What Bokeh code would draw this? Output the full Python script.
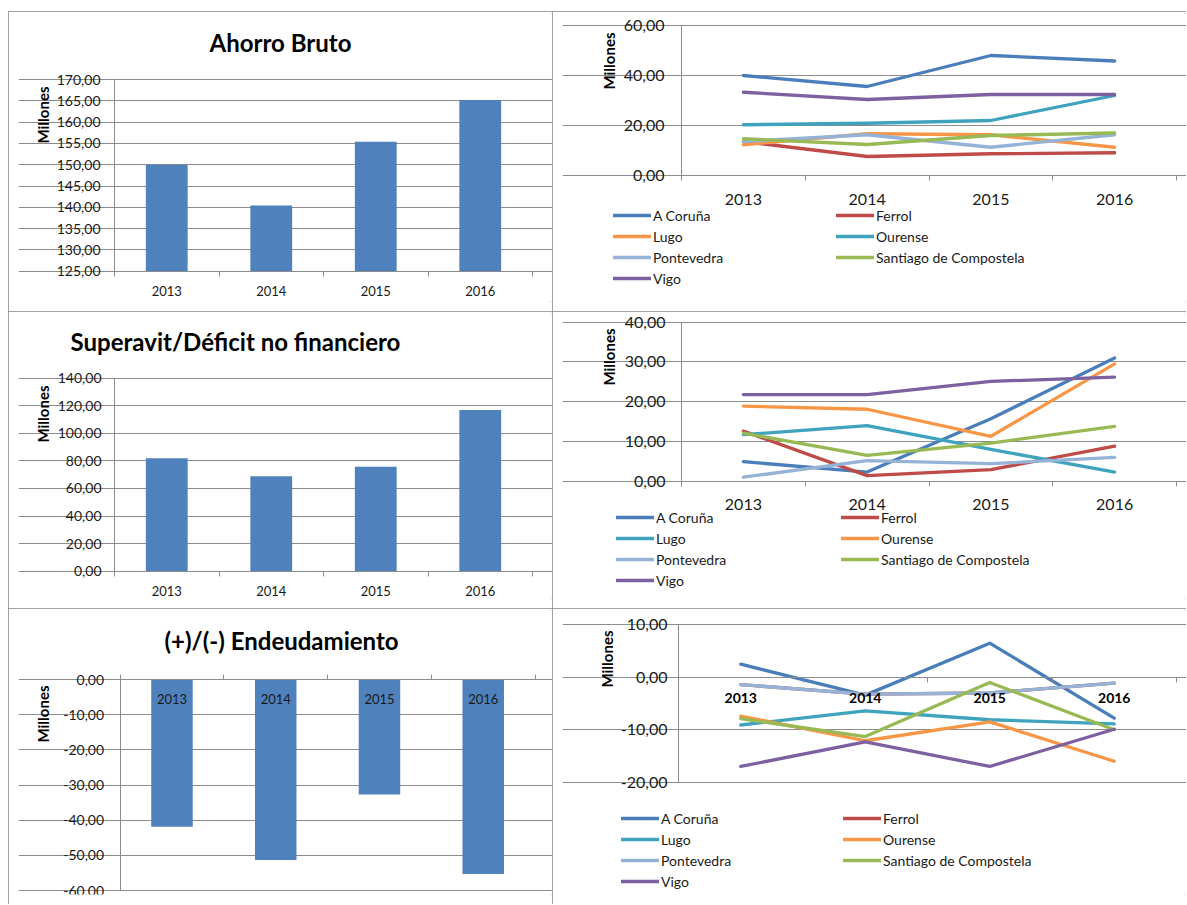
import math
from bokeh.plotting import figure
from bokeh.models import Range1d, FixedTicker, Legend, LegendItem, Spacer
from bokeh.layouts import column, row
from bokeh.embed import file_html
from bokeh.resources import INLINE
from bokeh.core.properties import value

# ---------------- data ----------------
years = ["2013", "2014", "2015", "2016"]
cities = ["A Coruña", "Ferrol", "Lugo", "Ourense", "Pontevedra",
          "Santiago de Compostela", "Vigo"]

ahorro_bruto = [150.0, 140.4, 155.4, 165.2]
superavit_deficit = [82.0, 68.8, 75.8, 116.9]
endeudamiento = [-41.9, -51.3, -32.7, -55.3]

# Ahorro bruto by city
ab_a_coruna = [40.0, 35.6, 48.0, 45.8]
ab_ferrol = [13.6, 7.6, 8.7, 9.1]
ab_lugo = [12.3, 16.7, 16.3, 11.3]
ab_ourense = [20.3, 20.9, 22.0, 32.0]
ab_pontevedra = [13.6, 16.3, 11.3, 16.3]
ab_santiago = [14.7, 12.4, 16.0, 17.0]
ab_vigo = [33.3, 30.4, 32.4, 32.4]

# Superavit/Deficit by city
sd_a_coruna = [4.9, 2.3, 15.7, 31.0]
sd_ferrol = [12.6, 1.4, 2.9, 8.8]
sd_lugo = [11.7, 14.0, 8.0, 2.3]
sd_ourense = [18.9, 18.1, 11.3, 29.5]
sd_pontevedra = [1.0, 5.2, 4.4, 6.0]
sd_santiago = [12.1, 6.5, 9.6, 13.8]
sd_vigo = [21.8, 21.8, 25.1, 26.2]

# Endeudamiento by city
en_a_coruna = [2.5, -3.4, 6.5, -7.8]
en_ferrol = [-1.4, -3.2, -3.0, -1.1]
en_lugo = [-9.1, -6.4, -8.1, -8.9]
en_ourense = [-7.4, -12.1, -8.5, -16.0]
en_pontevedra = [-1.4, -3.2, -3.0, -1.1]
en_santiago = [-7.9, -11.3, -1.0, -10.0]
en_vigo = [-17.0, -12.3, -17.0, -9.9]

# ---------------- styles ----------------
FONT = "Lato"
GRID = "#8c8c8c"
TXT = "#1a1a1a"
BAR = "#4F81BD"
C_BLUE, C_RED, C_ORANGE, C_TEAL = "#4A7EBB", "#BE4B48", "#F79646", "#3FA3BE"
C_LBLUE, C_GREEN, C_PURPLE = "#95B3D7", "#98B954", "#7D60A0"
colors_top = [C_BLUE, C_RED, C_ORANGE, C_TEAL, C_LBLUE, C_GREEN, C_PURPLE]
colors_rest = [C_BLUE, C_RED, C_TEAL, C_ORANGE, C_LBLUE, C_GREEN, C_PURPLE]

N = len(years)
xc = [i + 0.5 for i in range(N)]
BL, BR, BT, BB = 10, 0, 2, 10


def fmt(t):
    return f"{t:.2f}".replace(".", ",")


def panel(canvas, x0p, x4p, yhi, yhi_p, ylo, ylo_p, step, base):
    """Figure whose frame covers the canvas; geometry given in page pixels."""
    cx, cy, cw, ch = canvas
    fl, fr, ft, fb = cx + BL, cx + cw - BR, cy + BT, cy + ch - BB
    xper = (x4p - x0p) / N
    yper = (ylo_p - yhi_p) / (yhi - ylo)
    xr = Range1d(-(x0p - fl) / xper, N + (fr - x4p) / xper)
    yr = Range1d(ylo - (fb - ylo_p) / yper, yhi + (yhi_p - ft) / yper)

    def dx(px):
        return (px - x0p) / xper

    def dy(py):
        return yhi - (py - yhi_p) / yper

    p = figure(width=cw, height=ch, x_range=xr, y_range=yr,
               output_backend="svg", toolbar_location=None,
               min_border_left=BL, min_border_right=BR,
               min_border_top=BT, min_border_bottom=BB)
    p.outline_line_color = None
    p.background_fill_color = "white"
    p.border_fill_color = "white"
    p.xgrid.visible = False
    ticks = list(range(yhi, ylo - 1, -step))[::-1]
    ya = p.yaxis[0]
    ya.ticker = FixedTicker(ticks=ticks)
    ya.major_label_overrides = {t: "" for t in ticks}
    ya.major_label_text_font_size = "1px"
    ya.major_label_standoff = 0
    ya.fixed_location = 0
    ya.bounds = (ylo, yhi)
    ya.axis_line_color = GRID
    ya.major_tick_line_color = GRID
    ya.major_tick_in = 0
    ya.major_tick_out = 5
    ya.minor_tick_line_color = None
    p.ygrid.grid_line_color = GRID
    p.ygrid.bounds = (0, N)
    xa = p.xaxis[0]
    xa.ticker = FixedTicker(ticks=[], minor_ticks=list(range(N + 1)))
    xa.fixed_location = base
    xa.bounds = (0, N)
    xa.axis_line_color = GRID
    xa.major_tick_line_color = None
    xa.major_label_text_font_size = "1px"
    xa.major_label_standoff = 0
    xa.minor_tick_line_color = GRID
    xa.minor_tick_in = 0
    xa.minor_tick_out = 5
    p.styles = {"outline": "2px solid #858585", "outline-offset": "-2px"}
    p._geo = (fl, fr, ft, fb)
    return p, dx, dy, ticks


def txt(p, xs, ys, texts, size, bold=False, align="center", angle=0.0,
        color=TXT):
    p.text(x=xs, y=ys, text=texts, text_font=value(FONT), text_font_size=size,
           text_font_style="bold" if bold else "normal", text_align=align,
           text_baseline="middle", text_color=color, angle=angle)


def decorate(p, dx, dy, ticks, x0p, ygap, ysize, xlab_p, xsize, mill_x, mill_top,
             xbold=False):
    txt(p, [dx(x0p - ygap)] * len(ticks), ticks, [fmt(t) for t in ticks], ysize,
        align="right")
    txt(p, xc, [dy(xlab_p)] * N, years, xsize, bold=xbold,
        color="black" if xbold else TXT)
    txt(p, [dx(mill_x)], [dy(mill_top)], ["Millones"], "15px", bold=True,
        align="right", angle=math.pi / 2, color="black")


def add_lines(p, series, cols, leg_left, leg_top, pitch):
    fl, fr, ft, fb = p._geo
    items = []
    for name, vals, col in zip(cities, series, cols):
        r = p.line(xc, vals, line_color=col, line_width=3.3, line_join="round",
                   line_cap="round")
        items.append(LegendItem(label=name, renderers=[r]))
    nrows = math.ceil(len(cities) / 2)
    lh, sp, gw, ls = 20, 1, 38, 2
    height = nrows * lh + (nrows - 1) * sp
    leg = Legend(items=items, ncols=2, orientation="horizontal",
                 location=(leg_left - fl, fb - (leg_top + height)),
                 glyph_width=gw, glyph_height=lh, label_height=lh,
                 label_standoff=ls, label_width=pitch - gw - ls - sp,
                 spacing=sp, padding=0, margin=0, border_line_color=None,
                 background_fill_alpha=0, label_text_font=FONT,
                 label_text_font_size="14px", label_text_color=TXT)
    p.add_layout(leg)


LW, RW = 544, 634

# ---------------- panel 1: Ahorro Bruto ----------------
p1, dx, dy, t = panel((8, 11, LW, 300), 114, 532, 170, 79, 125, 270.7, 5, 125)
p1.vbar(x=xc, top=ahorro_bruto, bottom=t[0], width=0.4, fill_color=BAR,
        line_color=None)
decorate(p1, dx, dy, t, 114, 14, "14px", 290, "13px", 42, 86)
txt(p1, [dx(280)], [dy(41.5)], ["Ahorro Bruto"], "24px", bold=True,
    color="black")

# ---------------- panel 2 ----------------
p2, dx, dy, t = panel((552, 11, RW, 300), 681, 1176, 60, 25, 0, 175, 20, 0)
add_lines(p2, [ab_a_coruna, ab_ferrol, ab_lugo, ab_ourense, ab_pontevedra,
               ab_santiago, ab_vigo], colors_top, 613, 205, 223)
decorate(p2, dx, dy, t, 681, 17, "16px", 199, "16px", 608, 32)

# ---------------- panel 3: Superavit ----------------
p3, dx, dy, t = panel((8, 311, LW, 297), 114, 532, 140, 377.7, 0, 570.7, 20, 0)
p3.vbar(x=xc, top=superavit_deficit, bottom=0, width=0.4, fill_color=BAR,
        line_color=None)
decorate(p3, dx, dy, t, 114, 13, "14px", 590, "13px", 42, 385)
txt(p3, [dx(235)], [dy(341)], ["Superavit/Déficit no financiero"], "24px",
    bold=True, color="black")

# ---------------- panel 4 ----------------
p4, dx, dy, t = panel((552, 311, RW, 297), 681, 1176, 40, 321.7, 0, 480.7, 10, 0)
add_lines(p4, [sd_a_coruna, sd_ferrol, sd_lugo, sd_ourense, sd_pontevedra,
               sd_santiago, sd_vigo], colors_rest, 616, 507, 225)
decorate(p4, dx, dy, t, 681, 16, "16px", 504, "16px", 608, 328)

# ---------------- panel 5: Endeudamiento ----------------
p5, dx, dy, t = panel((8, 608, LW, 296), 119.6, 534.6, 0, 679, -60, 890, 10, 0)
p5.xaxis[0].minor_tick_in = 5
p5.xaxis[0].minor_tick_out = 0
p5.vbar(x=xc, top=0, bottom=endeudamiento, width=0.4, fill_color=BAR,
        line_color=None)
decorate(p5, dx, dy, t, 119.6, 16, "14px", 698, "13px", 42, 685)
txt(p5, [dx(281)], [dy(640)], ["(+)/(-) Endeudamiento"], "24px", bold=True,
    color="black")

# ---------------- panel 6 ----------------
p6, dx, dy, t = panel((552, 608, RW, 296), 678, 1176, 10, 624.3, -20, 781.7, 10, 0)
add_lines(p6, [en_a_coruna, en_ferrol, en_lugo, en_ourense, en_pontevedra,
               en_santiago, en_vigo], colors_rest, 621, 808, 222)
decorate(p6, dx, dy, t, 678, 11, "16px", 697, "14px", 606, 630, xbold=True)

layout = column(Spacer(height=11, width=1186),
                row(Spacer(width=8, height=893), column(p1, p3, p5),
                    column(p2, p4, p6)))

open("out.html", "w").write(file_html(layout, INLINE))
